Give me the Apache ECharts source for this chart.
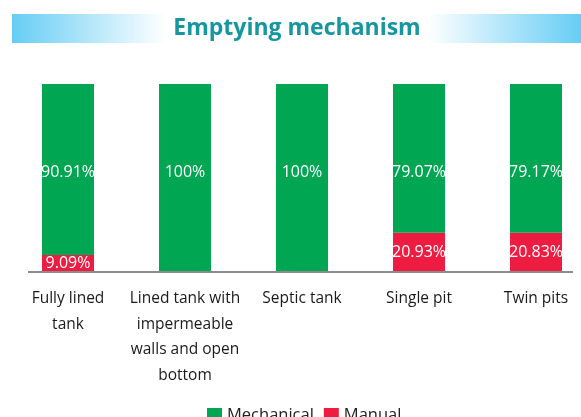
<!DOCTYPE html>
<html>
<head>
<meta charset="utf-8">
<script src="https://cdn.jsdelivr.net/npm/echarts@6/dist/echarts.min.js"></script>
<style>
  html, body { margin: 0; padding: 0; background: #ffffff; }
  #chart { width: 581px; height: 417px; }
</style>
</head>
<body>
<div id="chart"></div>
<script>
// Emptying mechanism by containment type (share of households, %)
const categories = [
  'Fully lined\ntank',
  'Lined tank with\nimpermeable\nwalls and open\nbottom',
  'Septic tank',
  'Single pit',
  'Twin pits'
];
const mechanical = [90.91, 100, 100, 79.07, 79.17];
const manual = [9.09, 0, 0, 20.93, 20.83];
const seriesNames = ['Mechanical', 'Manual'];

const FONT = "'Open Sans', 'Noto Sans', sans-serif";
const GREEN = '#00a651';
const RED = '#ed1c40';

const pct = p => (p.value === 0 ? '' : p.value + '%');

const chart = echarts.init(document.getElementById('chart'), null, { renderer: 'canvas' });

chart.setOption({
  backgroundColor: '#ffffff',
  animation: false,
  textStyle: { fontFamily: FONT },
  graphic: [
    {
      type: 'rect',
      shape: { x: 12, y: 14, width: 569, height: 29 },
      style: {
        fill: new echarts.graphic.LinearGradient(0, 0, 1, 0, [
          { offset: 0, color: '#66cdf5' },
          { offset: 0.27, color: '#ffffff' },
          { offset: 0.73, color: '#ffffff' },
          { offset: 1, color: '#66cdf5' }
        ])
      },
      z: 0
    },
    {
      type: 'text',
      x: 297,
      y: 28.5,
      style: {
        text: 'Emptying mechanism',
        fill: '#1697a0',
        font: "bold 23px 'Open Sans', 'Noto Sans', sans-serif",
        align: 'center',
        verticalAlign: 'middle'
      },
      z: 1
    },
    {
      type: 'line',
      shape: { x1: 28, y1: 272, x2: 573, y2: 272 },
      style: { stroke: '#8c8c8c', lineWidth: 2 },
      z: 5
    }
  ],
  legend: {
    data: seriesNames,
    left: 202,
    top: 402,
    itemWidth: 15,
    itemHeight: 15,
    itemGap: 10,
    icon: 'rect',
    textStyle: { fontFamily: FONT, fontSize: 16.5, color: '#222222', padding: [0, 0, 0, 0] }
  },
  // category centres sit on the tick positions (boundaryGap off)
  grid: { left: 68, right: 45, top: 84, height: 188, containLabel: false },
  xAxis: {
    type: 'category',
    data: categories,
    boundaryGap: false,
    axisLine: { show: false },
    axisTick: { show: false },
    axisLabel: {
      interval: 0,
      margin: 14,
      fontFamily: FONT,
      fontSize: 15.5,
      lineHeight: 25.5,
      color: '#1a1a1a'
    }
  },
  yAxis: {
    type: 'value',
    min: 0,
    max: 100,
    show: false,
    splitLine: { show: false }
  },
  series: [
    {
      name: 'Manual',
      type: 'bar',
      stack: 'total',
      data: manual,
      barWidth: 52,
      itemStyle: { color: RED },
      label: {
        show: true,
        position: 'inside',
        formatter: pct,
        color: '#ffffff',
        fontFamily: FONT,
        fontSize: 16
      }
    },
    {
      name: 'Mechanical',
      type: 'bar',
      stack: 'total',
      data: mechanical,
      barWidth: 52,
      itemStyle: { color: GREEN },
      label: {
        show: true,
        position: 'insideTop',
        distance: 80,
        formatter: pct,
        color: '#ffffff',
        fontFamily: FONT,
        fontSize: 16
      }
    }
  ]
});
</script>
</body>
</html>
